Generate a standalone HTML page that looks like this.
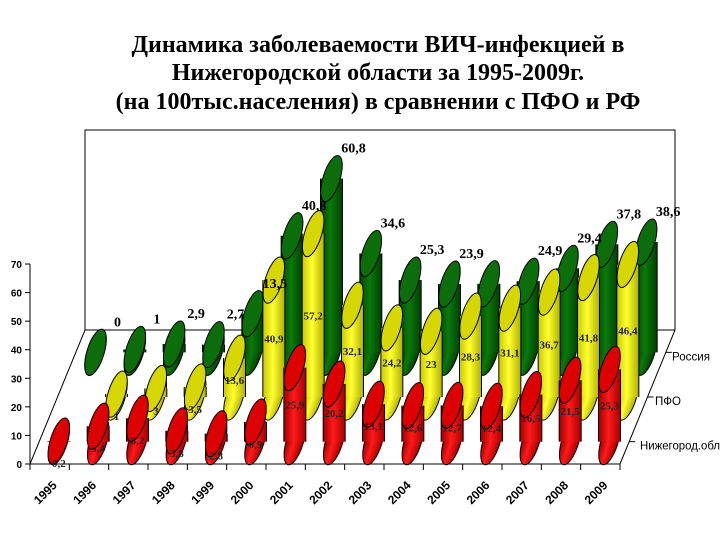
<!DOCTYPE html>
<html><head><meta charset="utf-8"><style>
body{margin:0;background:#fff}
svg{display:block}
</style></head><body>
<svg id="c" width="720" height="540" viewBox="0 0 720 540">
<defs>
<linearGradient id="gr" x1="0" x2="1"><stop offset="0" stop-color="#a00000"/><stop offset="0.45" stop-color="#ff1a1a"/><stop offset="1" stop-color="#a80000"/></linearGradient>
<linearGradient id="gy" x1="0" x2="1"><stop offset="0" stop-color="#c8c800"/><stop offset="0.45" stop-color="#ffff30"/><stop offset="1" stop-color="#b0b000"/></linearGradient>
<linearGradient id="gg" x1="0" x2="1"><stop offset="0" stop-color="#004800"/><stop offset="0.45" stop-color="#0a7a0a"/><stop offset="1" stop-color="#004000"/></linearGradient>
</defs>
<g font-family="Liberation Serif, serif" font-weight="bold" font-size="24" text-anchor="middle" fill="#000">
<text x="378" y="52">Динамика заболеваемости ВИЧ-инфекцией в</text>
<text x="378" y="80">Нижегородской области за 1995-2009г.</text>
<text x="378" y="109">(на 100тыс.населения) в сравнении с ПФО и РФ</text>
</g>
<g id="frame"></g>
<g id="bars"></g>
<g id="labels"></g>
</svg>
<script>
const years=["1995","1996","1997","1998","1999","2000","2001","2002","2003","2004","2005","2006","2007","2008","2009"];
const russia=[0,1,2.9,2.7,13.5,40.8,60.8,34.6,25.3,23.9,24,24.9,29.4,37.8,38.6];
const pfo=[0,1,3,3.5,13.6,40.9,57.2,32.1,24.2,23,28.3,31.1,36.7,41.8,46.4];
const nizh=[0.2,5.4,8.2,3.8,2.8,6.9,25.9,20.2,13.1,12.6,12.7,12.4,16.5,21.5,25.3];
const russiaLabels=["0","1","2,9","2,7","13,5","40,8","60,8","34,6","25,3","23,9","","24,9","29,4","37,8","38,6"];
const pfoLabels=["","1","3","3,5","13,6","40,9","57,2","32,1","24,2","23","28,3","31,1","36,7","41,8","46,4"];
const nizhLabels=["0,2","5,4","8,2","3,8","2,8","6,9","25,9","20,2","13,1","12,6","12,7","12,4","16,5","21,5","25,3"];
const yTicks=[0,10,20,30,40,50,60,70];
const seriesNames=["Россия","ПФО","Нижегород.обл"];

const NS="http://www.w3.org/2000/svg";
const X0=30,X1=620,Y0=464,PY=200/70,DX=55,DY=-134;
const slot=(X1-X0)/years.length;
function yv(v){return v*PY;}
function px(i,d){return X0+(i+0.5)*slot+DX*d;}
function py(d){return Y0+DY*d;}
function el(t,a,p){const e=document.createElementNS(NS,t);for(const k in a)e.setAttribute(k,a[k]);p.appendChild(e);return e;}
const frame=document.getElementById('frame'),bars=document.getElementById('bars'),labels=document.getElementById('labels');
const ln={stroke:"#000","stroke-width":1,fill:"none"};
let w=el('polyline',Object.assign({points:`${X0+DX},${Y0+DY} ${X0+DX},130 ${X1+DX},130 ${X1+DX},${Y0+DY}`},ln),frame);

let f=el('polygon',Object.assign({points:`${X0},${Y0} ${X1},${Y0} ${X1+DX},${Y0+DY} ${X0+DX},${Y0+DY}`},ln),frame);

let ya=el('line',Object.assign({x1:X0,y1:Y0,x2:X0,y2:Y0-yv(70)},ln),frame);

yTicks.forEach(t=>{
 const y=Y0-yv(t);
 const tk=el('line',Object.assign({x1:X0-5,y1:y,x2:X0,y2:y},ln),frame);
 
 const tx=el('text',{x:X0-8,y:y+4,"text-anchor":"end","font-family":"Liberation Sans, sans-serif","font-size":10,"font-weight":"bold"},frame);
 tx.textContent=t;
 
});
years.forEach((yr,i)=>{
 const x=X0+i*slot;
 const tk=el('line',Object.assign({x1:x,y1:Y0,x2:x,y2:Y0+6},ln),frame);
 
 const cx=X0+(i+0.5)*slot;
 const tx=el('text',{x:cx+8,y:Y0+22,"text-anchor":"end","font-family":"Liberation Sans, sans-serif","font-size":12,"font-weight":"bold",transform:`rotate(-45 ${cx+8} ${Y0+22})`},frame);
 tx.textContent=yr;
 
});
let lastTk=el('line',Object.assign({x1:X1,y1:Y0,x2:X1,y2:Y0+6},ln),frame);

[5/6,1/2,1/6].forEach((d,k)=>{
 const x=X1+DX*d,y=Y0+DY*d;
 const tk=el('line',Object.assign({x1:x,y1:y,x2:x+6,y2:y},ln),frame);
 
 const tx=el('text',{x:[672,655,640][k],y:y+8,"font-family":"Liberation Sans, sans-serif","font-size":12,"textLength":[38,26,80][k],"lengthAdjust":"spacingAndGlyphs"},frame);
 tx.textContent=seriesNames[k];
 
});
const series=[
 {vals:russia,labs:russiaLabels,d:5/6,fill:"url(#gg)",top:"#0b6e0b",name:"russia",outer:true},
 {vals:pfo,labs:pfoLabels,d:1/2,fill:"url(#gy)",top:"#d6d600",name:"pfo"},
 {vals:nizh,labs:nizhLabels,d:1/6,fill:"url(#gr)",top:"#dd0000",name:"nizhny"}
];
const RX=8.5,RY=24,ROT=17,HW=11;
series.forEach(s=>{
 s.vals.forEach((v,i)=>{
  if(v<=0 && s.name==="pfo")return;
  const cx=px(i,s.d),by=py(s.d),ty=by-yv(v);
  const g=el('g',{},bars);
  
  
  el('ellipse',{cx:cx,cy:by,rx:RX,ry:RY,transform:`rotate(${ROT} ${cx} ${by})`,fill:s.fill,stroke:"#000","stroke-width":1},g);
  if(ty<by) el('rect',{x:cx-HW,y:ty,width:2*HW,height:by-ty,fill:s.fill},g);
  el('line',{x1:cx-HW,y1:ty,x2:cx-HW,y2:by,stroke:"#000","stroke-width":1},g);
  el('line',{x1:cx+HW,y1:ty,x2:cx+HW,y2:by,stroke:"#000","stroke-width":1},g);
  el('ellipse',{cx:cx,cy:ty,rx:RX,ry:RY,transform:`rotate(${ROT} ${cx} ${ty})`,fill:s.top,stroke:"#000","stroke-width":1},g);
  const lab=s.labs[i];
  if(lab){
   let t;
   if(s.outer){
    t=el('text',{x:cx+22,y:ty-26,"text-anchor":"middle","font-family":"Liberation Serif, serif","font-size":14,"font-weight":"bold"},labels);
   } else {
    t=el('text',{x:cx,y:Math.max(ty+26,by-yv(v)/2+4),"text-anchor":"middle","font-family":"Liberation Serif, serif","font-size":11,"font-weight":"bold",fill:"#222"},labels);
   }
   t.textContent=lab;
   
   
  }
 });
});
</script>
</body></html>
